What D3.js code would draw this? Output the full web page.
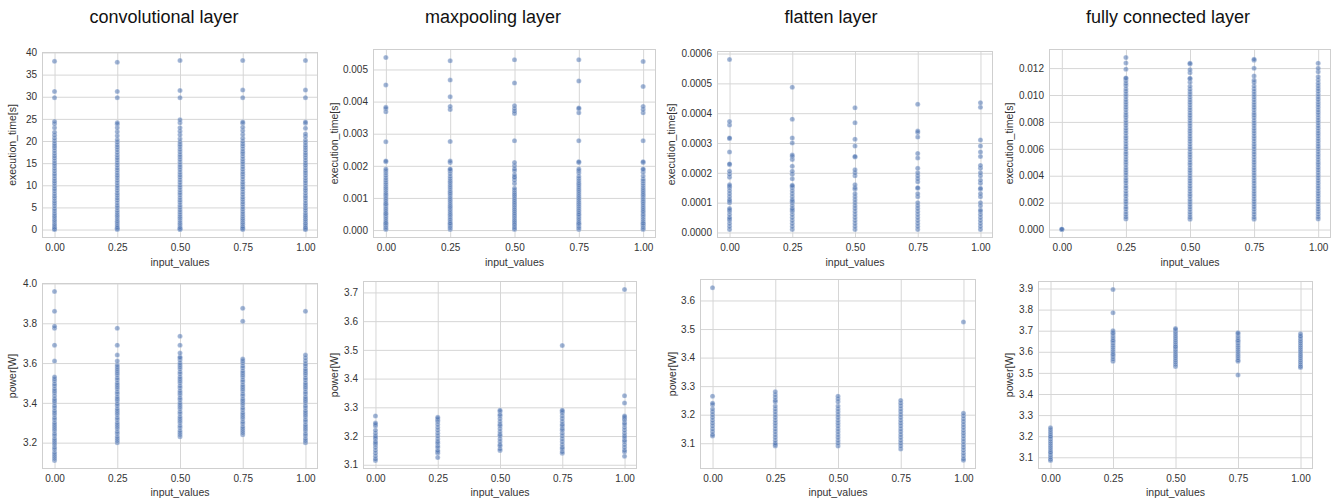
<!DOCTYPE html>
<html><head><meta charset="utf-8">
<script src="https://cdn.jsdelivr.net/npm/d3@7"></script>
<style>
html,body{margin:0;padding:0;background:#fff;}
svg{display:block;font-family:"Liberation Sans",Arial,Helvetica,sans-serif;}
</style></head>
<body>
<svg id="chart" width="1338" height="502"></svg>
<script>
// ---------- DATA ----------
const inputValues = [0, 0.25, 0.5, 0.75, 1.0];
const xTicks = [0, 0.25, 0.5, 0.75, 1.0];
const layerTitles = ["convolutional layer", "maxpooling layer", "flatten layer", "fully connected layer"];
const timeLabel = "execution_time[s]";
const powerLabel = "power[W]";
const xLabel = "input_values";

const convTime = [
 [0,0.05,0.2,0.5,0.9,1.3,1.8,2.2,2.7,3.1,3.6,4.2,4.7,5.3,5.9,6.4,7.0,7.5,8.1,8.7,9.2,9.8,10.4,10.9,11.5,12.1,12.6,13.2,13.8,14.4,14.9,15.5,16.1,16.6,17.2,17.8,18.4,18.9,19.4,20.0,20.6,21.3,22.0,23.0,23.9,24.4,29.8,31.2,38.0],
 [0,0.1,0.3,0.6,1.0,1.5,1.9,2.4,2.9,3.3,3.8,4.3,4.9,5.4,6.0,6.6,7.1,7.7,8.2,8.8,9.4,9.9,10.5,11.1,11.7,12.2,12.8,13.4,13.9,14.5,15.1,15.7,16.2,16.8,17.4,18.0,18.6,19.1,19.7,20.3,21.2,22.1,23.0,23.8,24.1,29.8,31.2,37.8],
 [0,0.05,0.25,0.6,1.1,1.5,2.0,2.5,2.9,3.4,3.9,4.4,5.0,5.5,6.1,6.6,7.2,7.8,8.3,8.9,9.5,10.0,10.6,11.2,11.8,12.3,12.9,13.5,14.1,14.6,15.2,15.8,16.4,16.9,17.5,18.1,18.7,19.2,19.8,20.5,21.4,22.2,23.0,24.1,24.8,29.8,31.4,38.2],
 [0,0.1,0.35,0.7,1.2,1.6,2.1,2.5,3.0,3.5,4.0,4.6,5.1,5.7,6.2,6.8,7.3,7.9,8.5,9.1,9.6,10.2,10.7,11.3,11.9,12.5,13.0,13.6,14.2,14.8,15.3,15.9,16.5,17.1,17.6,18.2,18.8,19.3,19.9,20.6,21.5,22.3,23.1,24.0,24.3,29.8,31.5,38.2],
 [0,0.05,0.3,0.6,1.0,1.4,1.9,2.3,2.8,3.2,3.7,4.3,4.8,5.4,5.9,6.5,7.1,7.6,8.2,8.8,9.3,9.9,10.5,11.0,11.6,12.2,12.8,13.3,13.9,14.5,15.0,15.6,16.2,16.8,17.3,17.9,18.5,19.0,19.6,20.2,21.0,21.6,22.9,24.0,24.3,29.8,31.5,38.2]
];
const maxpoolTime = [
 [0.00002,0.00005,0.0001,0.00015,0.0002,0.00021,0.00026,0.00032,0.00038,0.00044,0.0005,0.00051,0.00057,0.00063,0.00069,0.00075,0.0008,0.00082,0.00088,0.00094,0.001,0.00106,0.00111,0.00116,0.00123,0.00129,0.00135,0.00142,0.00148,0.00155,0.00162,0.0017,0.00178,0.00185,0.0019,0.00213,0.00215,0.00275,0.00368,0.00378,0.00382,0.00452,0.00537],
 [0.00002,0.00006,0.00011,0.00016,0.0002,0.00022,0.00028,0.00034,0.0004,0.00046,0.00051,0.00057,0.00063,0.00069,0.00073,0.00079,0.00085,0.00091,0.00097,0.00103,0.0011,0.00115,0.00121,0.00128,0.00134,0.0014,0.00147,0.00153,0.0016,0.00167,0.00175,0.00183,0.00188,0.0019,0.0021,0.00215,0.00276,0.00375,0.00385,0.00415,0.00467,0.00527],
 [0.00002,0.00005,0.0001,0.00016,0.0002,0.00025,0.0003,0.00036,0.00042,0.00048,0.00053,0.00059,0.00065,0.00071,0.00077,0.00083,0.00088,0.00094,0.001,0.00106,0.00111,0.00117,0.00124,0.0013,0.00145,0.00155,0.00163,0.00165,0.00172,0.00185,0.0019,0.002,0.0021,0.00278,0.00363,0.0037,0.00378,0.00387,0.00458,0.0053],
 [0.00002,0.00006,0.00011,0.00017,0.0002,0.00023,0.00029,0.00035,0.00041,0.00047,0.0005,0.00056,0.00062,0.00068,0.00074,0.0008,0.00086,0.00092,0.00098,0.00104,0.0011,0.00116,0.00122,0.00128,0.00134,0.0014,0.00146,0.00153,0.0016,0.00167,0.00178,0.00185,0.0019,0.0021,0.00213,0.00278,0.00365,0.00378,0.0038,0.00464,0.0053],
 [0.00002,0.00005,0.0001,0.00015,0.0002,0.00021,0.00027,0.00033,0.00039,0.00045,0.0005,0.00056,0.0006,0.00066,0.00072,0.00078,0.00084,0.0009,0.00096,0.00102,0.00108,0.00113,0.00119,0.00125,0.00131,0.00138,0.00145,0.00152,0.00158,0.00168,0.0018,0.00188,0.0019,0.0021,0.00213,0.00278,0.00365,0.00375,0.00385,0.00447,0.00525]
];
const flattenTime = [
 [0.00001,0.00002,0.00003,0.00004,0.000045,0.00005,0.00006,0.00007,0.000075,0.00008,0.0001,0.000105,0.00011,0.00012,0.00013,0.00014,0.00015,0.000155,0.00016,0.000185,0.000195,0.000205,0.000228,0.00023,0.00027,0.000315,0.000317,0.00036,0.000372,0.00058],
 [0.00001,0.00002,0.00003,0.00004,0.00005,0.00006,0.00007,0.000075,0.00008,0.00009,0.0001,0.000105,0.00011,0.00012,0.00013,0.00014,0.00015,0.000155,0.000158,0.00018,0.000195,0.000205,0.000222,0.000245,0.000255,0.00026,0.0003,0.000317,0.00038,0.000487],
 [0.00001,0.00002,0.00003,0.00004,0.00005,0.00006,0.00007,0.00008,0.00009,0.0001,0.00011,0.00012,0.00013,0.000145,0.00015,0.00016,0.00019,0.0002,0.00021,0.000253,0.000255,0.00029,0.000313,0.000368,0.000418],
 [0.00001,0.00002,0.00003,0.00004,0.00005,0.00006,0.00007,0.00008,0.00009,0.0001,0.00012,0.00013,0.000148,0.00015,0.00017,0.00018,0.00019,0.0002,0.000215,0.00025,0.000265,0.00032,0.000335,0.00034,0.00043],
 [0.00001,0.00002,0.00003,0.00004,0.00005,0.00006,0.00007,0.000075,0.00009,0.0001,0.00012,0.00013,0.000145,0.000148,0.000165,0.000175,0.00019,0.0002,0.000215,0.000225,0.000255,0.00027,0.00029,0.00031,0.00042,0.000435]
];
const fcTime = [
 [0.00001,0.00002,0.00003],
 [0.00078,0.00093,0.00112,0.00131,0.00152,0.00168,0.00189,0.00207,0.00226,0.00248,0.00265,0.00284,0.00306,0.00323,0.00345,0.00362,0.00381,0.00403,0.00422,0.00441,0.0046,0.00482,0.005,0.00518,0.0054,0.00559,0.00577,0.00598,0.00616,0.00635,0.00657,0.00676,0.00694,0.00715,0.00734,0.00752,0.00773,0.00792,0.0081,0.00832,0.0085,0.00868,0.0089,0.00908,0.00928,0.00946,0.00965,0.00987,0.01005,0.01026,0.01045,0.01068,0.01085,0.01105,0.01122,0.01127,0.01192,0.01238,0.01278],
 [0.00076,0.00091,0.0011,0.00128,0.00149,0.00167,0.00186,0.00205,0.00224,0.00245,0.00263,0.00282,0.00303,0.00321,0.00342,0.0036,0.0038,0.004,0.0042,0.00438,0.00458,0.00479,0.00497,0.00516,0.00537,0.00556,0.00575,0.00596,0.00614,0.00633,0.00654,0.00673,0.00692,0.00712,0.00731,0.0075,0.0077,0.00789,0.00808,0.00829,0.00847,0.00866,0.00887,0.00905,0.00925,0.00944,0.00963,0.00984,0.01003,0.01023,0.01042,0.01065,0.01095,0.01118,0.01125,0.01165,0.01188,0.0123,0.01236],
 [0.00077,0.00092,0.00111,0.0013,0.0015,0.00169,0.00188,0.00206,0.00225,0.00246,0.00264,0.00283,0.00304,0.00322,0.00343,0.00361,0.00382,0.00401,0.00421,0.0044,0.00459,0.0048,0.00498,0.00517,0.00538,0.00557,0.00576,0.00597,0.00615,0.00634,0.00655,0.00674,0.00693,0.00713,0.00732,0.00751,0.00772,0.0079,0.00809,0.0083,0.00849,0.00867,0.00889,0.00907,0.00926,0.00945,0.00964,0.00985,0.01004,0.01025,0.01044,0.01066,0.01092,0.0111,0.01142,0.01198,0.01258,0.01266],
 [0.00078,0.00094,0.00113,0.00132,0.00151,0.0017,0.00189,0.00208,0.00227,0.00247,0.00266,0.00285,0.00305,0.00324,0.00344,0.00363,0.00383,0.00402,0.00423,0.00442,0.00461,0.00481,0.00499,0.00519,0.00539,0.00558,0.00578,0.00599,0.00617,0.00636,0.00656,0.00675,0.00695,0.00714,0.00733,0.00753,0.00771,0.00791,0.00811,0.00831,0.00851,0.00869,0.00888,0.00909,0.00927,0.00947,0.00966,0.00986,0.01006,0.01027,0.01046,0.01067,0.01088,0.01112,0.01135,0.01172,0.01198,0.01236]
];
const convPower = [
 [3.11,3.12,3.13,3.14,3.15,3.165,3.175,3.19,3.20,3.21,3.22,3.235,3.245,3.26,3.27,3.28,3.29,3.30,3.315,3.325,3.34,3.35,3.36,3.375,3.385,3.40,3.41,3.42,3.435,3.45,3.46,3.47,3.485,3.495,3.51,3.52,3.53,3.61,3.69,3.775,3.785,3.86,3.96],
 [3.20,3.21,3.22,3.23,3.245,3.255,3.27,3.28,3.29,3.30,3.315,3.325,3.34,3.35,3.36,3.37,3.385,3.395,3.41,3.42,3.43,3.445,3.455,3.47,3.48,3.49,3.50,3.515,3.525,3.54,3.55,3.56,3.57,3.58,3.59,3.61,3.64,3.69,3.775],
 [3.23,3.24,3.25,3.26,3.275,3.285,3.30,3.31,3.32,3.33,3.345,3.355,3.37,3.38,3.39,3.40,3.415,3.425,3.44,3.45,3.46,3.475,3.485,3.50,3.51,3.52,3.53,3.545,3.555,3.57,3.58,3.59,3.60,3.615,3.625,3.63,3.65,3.69,3.735],
 [3.24,3.25,3.26,3.27,3.28,3.295,3.305,3.32,3.33,3.34,3.35,3.365,3.375,3.39,3.40,3.41,3.42,3.435,3.445,3.46,3.47,3.48,3.49,3.505,3.515,3.53,3.54,3.55,3.56,3.575,3.585,3.60,3.61,3.62,3.81,3.875],
 [3.20,3.21,3.22,3.235,3.245,3.26,3.27,3.28,3.29,3.305,3.315,3.33,3.34,3.35,3.36,3.375,3.385,3.40,3.41,3.42,3.43,3.445,3.455,3.47,3.48,3.49,3.50,3.515,3.525,3.54,3.55,3.56,3.57,3.585,3.595,3.61,3.625,3.64,3.86]
];
const maxpoolPower = [
 [3.115,3.12,3.13,3.14,3.15,3.16,3.17,3.175,3.18,3.19,3.195,3.2,3.21,3.22,3.235,3.24,3.245,3.27],
 [3.125,3.14,3.145,3.15,3.16,3.165,3.175,3.18,3.19,3.2,3.21,3.22,3.23,3.24,3.25,3.255,3.26,3.265],
 [3.15,3.155,3.165,3.17,3.18,3.19,3.2,3.205,3.215,3.225,3.235,3.24,3.25,3.26,3.27,3.275,3.285,3.29],
 [3.14,3.145,3.155,3.16,3.17,3.18,3.19,3.2,3.21,3.22,3.225,3.235,3.24,3.25,3.26,3.27,3.28,3.285,3.29,3.515],
 [3.13,3.145,3.15,3.16,3.17,3.18,3.185,3.195,3.2,3.21,3.22,3.23,3.24,3.245,3.255,3.26,3.265,3.27,3.315,3.34,3.71]
];
const flattenPower = [
 [3.125,3.13,3.14,3.15,3.16,3.17,3.18,3.19,3.2,3.21,3.22,3.235,3.24,3.265,3.645],
 [3.09,3.095,3.1,3.11,3.12,3.13,3.14,3.15,3.16,3.17,3.18,3.19,3.2,3.21,3.22,3.23,3.245,3.25,3.26,3.27,3.28],
 [3.09,3.1,3.11,3.12,3.13,3.14,3.15,3.16,3.17,3.18,3.19,3.2,3.21,3.22,3.23,3.245,3.255,3.265],
 [3.08,3.09,3.1,3.11,3.12,3.13,3.14,3.15,3.16,3.17,3.18,3.19,3.2,3.21,3.22,3.23,3.24,3.25],
 [3.04,3.045,3.055,3.065,3.075,3.085,3.095,3.105,3.115,3.125,3.135,3.145,3.155,3.165,3.175,3.185,3.195,3.205,3.525]
];
const fcPower = [
 [3.085,3.09,3.1,3.11,3.12,3.125,3.135,3.145,3.155,3.165,3.175,3.185,3.195,3.2,3.21,3.22,3.23,3.24],
 [3.555,3.565,3.575,3.585,3.59,3.6,3.61,3.62,3.63,3.64,3.65,3.655,3.665,3.675,3.685,3.69,3.7,3.785,3.895],
 [3.53,3.54,3.55,3.56,3.57,3.58,3.59,3.6,3.61,3.62,3.625,3.635,3.645,3.655,3.665,3.675,3.685,3.695,3.705,3.71],
 [3.49,3.555,3.56,3.57,3.58,3.59,3.6,3.61,3.62,3.63,3.64,3.65,3.655,3.665,3.675,3.685,3.69],
 [3.525,3.53,3.54,3.55,3.56,3.57,3.58,3.59,3.6,3.61,3.62,3.63,3.64,3.65,3.66,3.67,3.675,3.685]
];

const convTimeTicks = [0,5,10,15,20,25,30,35,40];
const maxpoolTimeTicks = [0,0.001,0.002,0.003,0.004,0.005];
const flattenTimeTicks = [0,0.0001,0.0002,0.0003,0.0004,0.0005,0.0006];
const fcTimeTicks = [0,0.002,0.004,0.006,0.008,0.010,0.012];
const convPowerTicks = [3.2,3.4,3.6,3.8,4.0];
const maxpoolPowerTicks = [3.1,3.2,3.3,3.4,3.5,3.6,3.7];
const flattenPowerTicks = [3.1,3.2,3.3,3.4,3.5,3.6];
const fcPowerTicks = [3.1,3.2,3.3,3.4,3.5,3.6,3.7,3.8,3.9];

// ---------- LAYOUT ----------
const panels = [
 {data:convTime, ticks:convTimeTicks, fmt:".0f", label:timeLabel, title:layerTitles[0], titleX:164, l:42, r:318, t:52, b:238, ylx:13, row:0},
 {data:maxpoolTime, ticks:maxpoolTimeTicks, fmt:".3f", label:timeLabel, title:layerTitles[1], titleX:493, l:373, r:656, t:49, b:238, ylx:335, row:0},
 {data:flattenTime, ticks:flattenTimeTicks, fmt:".4f", label:timeLabel, title:layerTitles[2], titleX:831, l:717, r:993, t:51, b:238, ylx:672, row:0},
 {data:fcTime, ticks:fcTimeTicks, fmt:".3f", label:timeLabel, title:layerTitles[3], titleX:1168, l:1049, r:1331, t:49, b:238, ylx:1010, row:0},
 {data:convPower, ticks:convPowerTicks, fmt:".1f", label:powerLabel, l:42, r:318, t:283, b:469, ylx:13, row:1},
 {data:maxpoolPower, ticks:maxpoolPowerTicks, fmt:".1f", label:powerLabel, l:363, r:637, t:281, b:469, ylx:335, row:1},
 {data:flattenPower, ticks:flattenPowerTicks, fmt:".1f", label:powerLabel, l:700, r:976, t:279, b:469, ylx:673, row:1},
 {data:fcPower, ticks:fcPowerTicks, fmt:".1f", label:powerLabel, l:1038, r:1313, t:281, b:469, ylx:1010, row:1}
];

const svg = d3.select("#chart");
svg.append("rect").attr("width",1338).attr("height",502).attr("fill","#fff");

const gridColor = "#d6d6d6", spineColor = "#cfcfcf", textColor = "#333";
const pointColor = "#4C72B0";

panels.forEach(p => {
  const pts = [];
  p.data.forEach((col, i) => col.forEach(v => pts.push({x: inputValues[i], y: v})));
  const yMin = d3.min(pts, d => d.y), yMax = d3.max(pts, d => d.y);
  const pad = (yMax - yMin) * 0.05;
  const x = d3.scaleLinear().domain([-0.05, 1.05]).range([p.l, p.r]);
  const y = d3.scaleLinear().domain([yMin - pad, yMax + pad]).range([p.b, p.t]);

  const g = svg.append("g");
  // grid
  const xAxis = d3.axisBottom(x).tickValues(xTicks).tickFormat(d3.format(".2f")).tickSize(-(p.b - p.t)).tickPadding(6);
  const yAxis = d3.axisLeft(y).tickValues(p.ticks).tickFormat(d3.format(p.fmt)).tickSize(-(p.r - p.l)).tickPadding(5);
  const gx = g.append("g").attr("transform", `translate(0,${p.b})`).call(xAxis);
  const gy = g.append("g").attr("transform", `translate(${p.l},0)`).call(yAxis);
  [gx, gy].forEach(a => {
    a.select(".domain").remove();
    a.selectAll(".tick line").attr("stroke", gridColor).attr("stroke-width", 1);
    a.selectAll(".tick text").attr("fill", textColor).style("font-size", "10px")
      .style("font-family", '"Liberation Sans",Arial,sans-serif');
  });
  // spines
  g.append("rect").attr("x", p.l + 0.5).attr("y", p.t + 0.5)
    .attr("width", p.r - p.l - 1).attr("height", p.b - p.t - 1)
    .attr("fill", "none").attr("stroke", spineColor).attr("stroke-width", 1);

  // points
  g.append("g").selectAll("circle").data(pts).join("circle")
    .attr("cx", d => x(d.x)).attr("cy", d => y(d.y)).attr("r", 2.5)
    .attr("fill", pointColor).attr("fill-opacity", 0.55)
    .attr("stroke", "#fff").attr("stroke-width", 0.4).attr("stroke-opacity", 0.6);

  // labels
  g.append("text").attr("x", (p.l + p.r) / 2).attr("y", p.row === 0 ? 263 : 493)
    .attr("text-anchor", "middle").attr("dominant-baseline", "middle")
    .attr("fill", textColor).style("font-size", "10.5px").text(xLabel);
  const cy = (p.t + p.b) / 2;
  g.append("text").attr("transform", `translate(${p.ylx},${cy}) rotate(-90)`)
    .attr("text-anchor", "middle").attr("dominant-baseline", "middle")
    .attr("fill", textColor).style("font-size", "10.5px").text(p.label);
  if (p.title) {
    svg.append("text").attr("x", p.titleX).attr("y", 23).attr("text-anchor", "middle")
      .attr("fill", "#111").style("font-size", "18px").text(p.title);
  }
});
</script>
</body></html>
